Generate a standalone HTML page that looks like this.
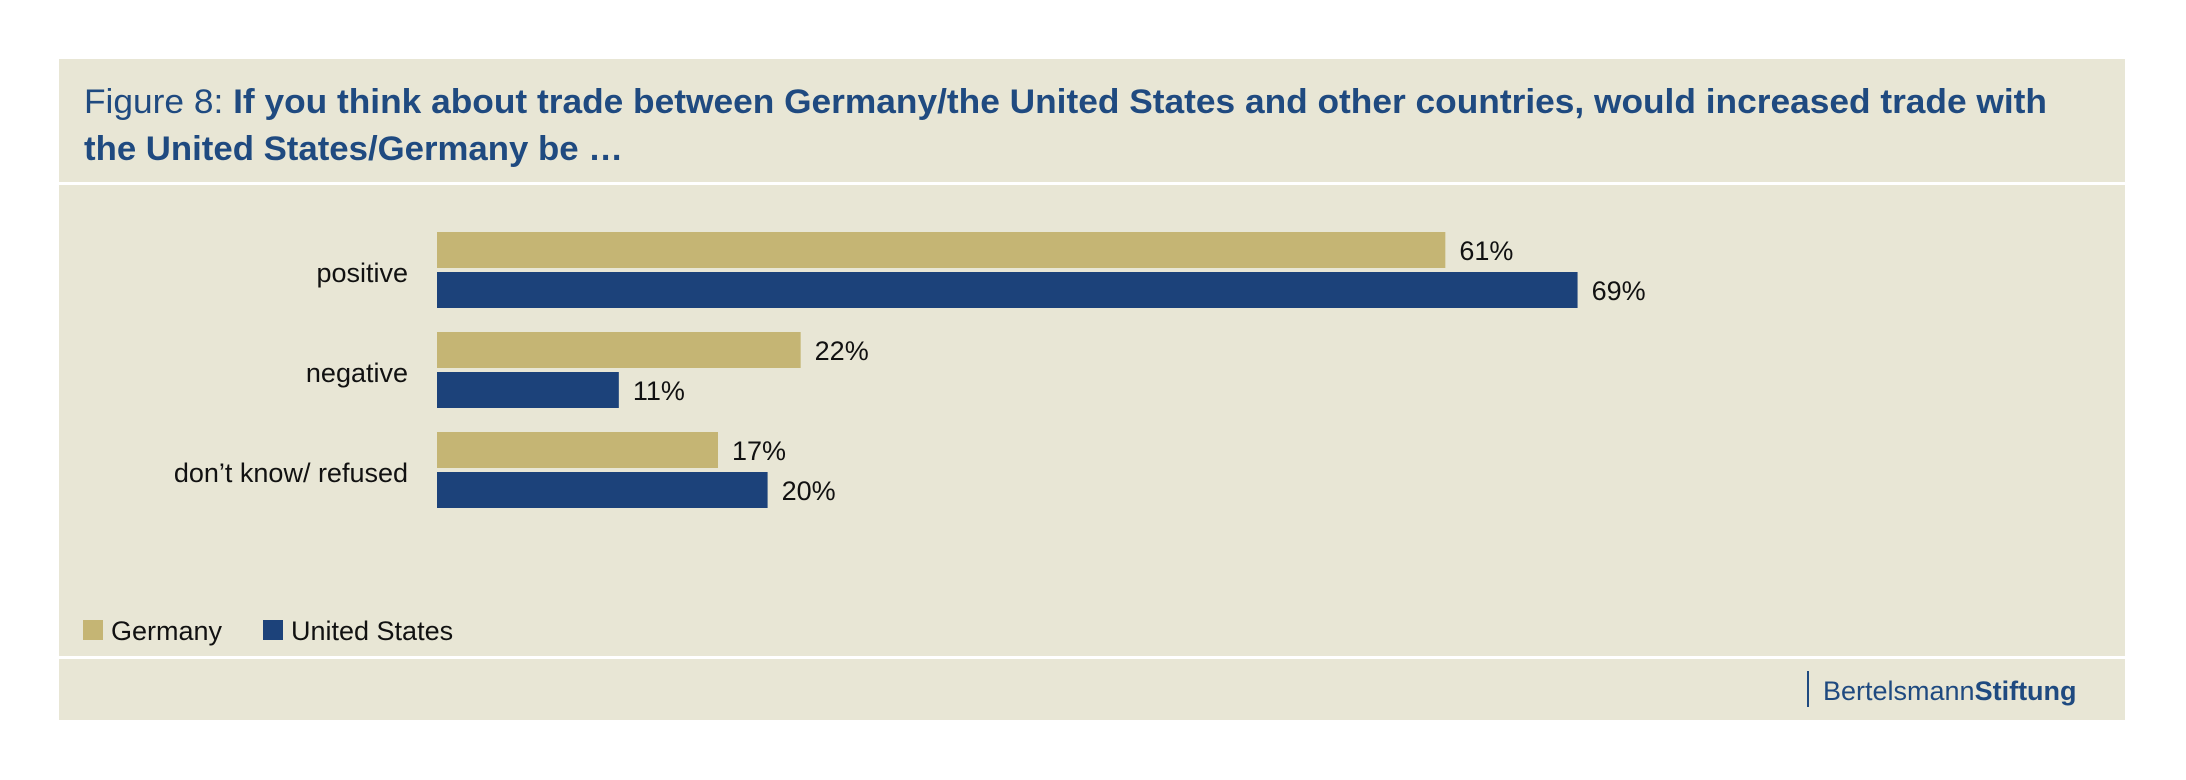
<!DOCTYPE html>
<html><head><meta charset="utf-8"><style>
html,body{margin:0;padding:0;background:#fff;}
svg{display:block;font-family:"Liberation Sans",sans-serif;}
</style></head><body>
<svg id="chart" width="2186" height="780" viewBox="0 0 2186 780" xmlns="http://www.w3.org/2000/svg">
  <rect x="59" y="59" width="2066" height="661" fill="#e8e6d5"/>
  <text x="84" y="113" font-size="34" fill="#1f4a80" textLength="1963" lengthAdjust="spacingAndGlyphs">Figure 8: <tspan font-weight="bold">If you think about trade between Germany/the United States and other countries, would increased trade with</tspan></text>
  <text x="84" y="160" font-size="34" fill="#1f4a80" font-weight="bold" textLength="539" lengthAdjust="spacingAndGlyphs">the United States/Germany be …</text>
  <rect x="59" y="182" width="2066" height="3" fill="#ffffff"/>
  <g id="bars"></g>
  <rect x="83" y="620" width="20" height="20" fill="#c5b574"/>
  <text x="111" y="640" font-size="27" fill="#111">Germany</text>
  <rect x="263" y="620" width="20" height="20" fill="#1c427a"/>
  <text x="291" y="640" font-size="27" fill="#111">United States</text>
  <rect x="59" y="656" width="2066" height="3" fill="#ffffff"/>
  <rect x="1807" y="671" width="2" height="36" fill="#1f4a80"/>
  <text x="1823" y="700" font-size="27" fill="#1f4a80">Bertelsmann<tspan font-weight="bold">Stiftung</tspan></text>
</svg>
<script>
const categories = ["positive", "negative", "don’t know/ refused"];
const germany = [61, 22, 17];
const unitedStates = [69, 11, 20];
const seriesNames = ["Germany", "United States"];

const NS = "http://www.w3.org/2000/svg";
const g = document.getElementById("bars");
const x0 = 437, pxPerPct = 16.53;
const xScale = v => x0 + v * pxPerPct;
const yGroup = i => 232 + i * 100;
const colors = ["#c5b574", "#1c427a"];
const series = [germany, unitedStates];

categories.forEach((cat, i) => {
  const gy = yGroup(i);
  const lab = document.createElementNS(NS, "text");
  
  
  lab.setAttribute("x", 408);
  lab.setAttribute("y", gy + 50);
  lab.setAttribute("text-anchor", "end");
  lab.setAttribute("font-size", "27");
  lab.setAttribute("fill", "#111");
  lab.textContent = cat;
  g.appendChild(lab);
  series.forEach((vals, s) => {
    const by = gy + s * 40;
    const r = document.createElementNS(NS, "rect");
    
    
    r.setAttribute("x", x0);
    r.setAttribute("y", by);
    r.setAttribute("width", xScale(vals[i]) - x0);
    r.setAttribute("height", 36);
    r.setAttribute("fill", colors[s]);
    g.appendChild(r);
    const t = document.createElementNS(NS, "text");
    
    
    t.setAttribute("x", xScale(vals[i]) + 14);
    t.setAttribute("y", by + 28);
    t.setAttribute("font-size", "27");
    t.setAttribute("fill", "#111");
    t.textContent = vals[i] + "%";
    g.appendChild(t);
  });
});
</script>
</body></html>
